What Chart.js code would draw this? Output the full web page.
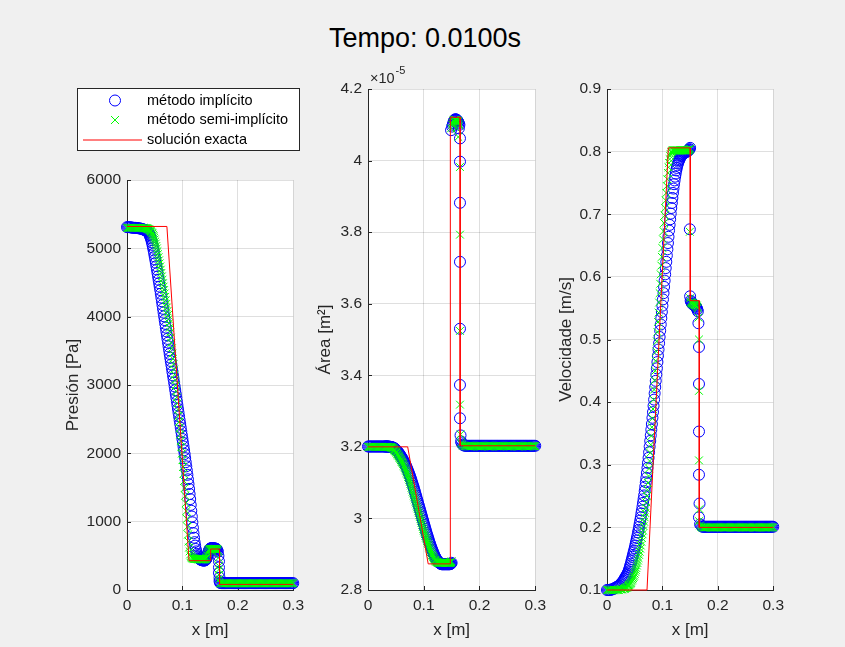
<!DOCTYPE html>
<html>
<head>
<meta charset="utf-8">
<script src="https://cdn.jsdelivr.net/npm/chart.js@4.4.0/dist/chart.umd.min.js"></script>
<style>
  html, body { margin: 0; padding: 0; }
  body { width: 845px; height: 647px; background: #f0f0f0; position: relative; overflow: hidden;
         font-family: "Liberation Sans", Arial, Helvetica, sans-serif; }
  #titulo { position: absolute; left: 0; top: 23px; width: 850px; text-align: center;
            font-size: 27px; line-height: 31px; color: #000; }
  canvas { position: absolute; top: 0; }
</style>
</head>
<body>
<div id="titulo">Tempo: 0.0100s</div>
<canvas id="graficoPresion" width="270" height="647" style="left:40px"></canvas>
<canvas id="graficoArea" width="252" height="647" style="left:300px"></canvas>
<canvas id="graficoVelocidad" width="245" height="647" style="left:545px"></canvas>
<script>
'use strict'

/******************     DATA    ******************/

// mesh positions [m]: coarse at the ends, fine through the waves
const xMalla = [
  0, 0.002, 0.004, 0.006, 0.008, 0.010, 0.012, 0.014, 0.016, 0.018, 0.020, 0.022, 0.024, 0.026, 0.028,
  0.030, 0.031, 0.032, 0.033, 0.034, 0.035, 0.036, 0.037, 0.038, 0.039,
  0.040, 0.041, 0.042, 0.043, 0.044, 0.045, 0.046, 0.047, 0.048, 0.049,
  0.050, 0.051, 0.052, 0.053, 0.054, 0.055, 0.056, 0.057, 0.058, 0.059,
  0.060, 0.061, 0.062, 0.063, 0.064, 0.065, 0.066, 0.067, 0.068, 0.069,
  0.070, 0.071, 0.072, 0.073, 0.074, 0.075, 0.076, 0.077, 0.078, 0.079,
  0.080, 0.081, 0.082, 0.083, 0.084, 0.085, 0.086, 0.087, 0.088, 0.089,
  0.090, 0.091, 0.092, 0.093, 0.094, 0.095, 0.096, 0.097, 0.098, 0.099,
  0.100, 0.101, 0.102, 0.103, 0.104, 0.105, 0.106, 0.107, 0.108, 0.109,
  0.110, 0.111, 0.112, 0.113, 0.114, 0.115, 0.116, 0.117, 0.118, 0.119,
  0.120, 0.121, 0.122, 0.123, 0.124, 0.125, 0.126, 0.127, 0.128, 0.129,
  0.130, 0.131, 0.132, 0.133, 0.134, 0.135, 0.136, 0.137, 0.138, 0.139,
  0.140, 0.141, 0.142, 0.143, 0.144, 0.145, 0.146, 0.147, 0.148, 0.149,
  0.150, 0.151, 0.152, 0.153, 0.154, 0.155, 0.156, 0.157, 0.158, 0.159,
  0.160, 0.161, 0.162, 0.163, 0.164, 0.165, 0.166, 0.167, 0.168,
  0.170, 0.172, 0.174, 0.176, 0.178, 0.180, 0.182, 0.184, 0.186, 0.188, 0.190,
  0.192, 0.194, 0.196, 0.198, 0.200, 0.202, 0.204, 0.206, 0.208, 0.210, 0.212,
  0.214, 0.216, 0.218, 0.220, 0.222, 0.224, 0.226, 0.228, 0.230, 0.232, 0.234,
  0.236, 0.238, 0.240, 0.242, 0.244, 0.246, 0.248, 0.250, 0.252, 0.254, 0.256,
  0.258, 0.260, 0.262, 0.264, 0.266, 0.268, 0.270, 0.272, 0.274, 0.276, 0.278,
  0.280, 0.282, 0.284, 0.286, 0.288, 0.290, 0.292, 0.294, 0.296, 0.298, 0.300
];

// pressure [Pa]
const presionImplicito = [
  5310, 5310, 5310, 5308, 5305, 5302, 5300, 5300, 5300, 5298, 5295, 5292, 5290, 5285, 5280,
  5275, 5272, 5270, 5266, 5262, 5259, 5255, 5248, 5240, 5226,
  5210, 5191, 5170, 5146, 5120, 5087, 5050, 5011, 4970, 4926,
  4880, 4835, 4790, 4740, 4690, 4640, 4590, 4540, 4490, 4440,
  4390, 4335, 4280, 4225, 4170, 4115, 4060, 4005, 3950, 3895,
  3840, 3785, 3730, 3675, 3620, 3565, 3510, 3455, 3400, 3350,
  3300, 3245, 3190, 3140, 3090, 3035, 2980, 2925, 2870, 2815,
  2760, 2705, 2650, 2595, 2540, 2485, 2430, 2375, 2320, 2265,
  2210, 2155, 2100, 2045, 1990, 1930, 1870, 1810, 1750, 1685,
  1620, 1550, 1480, 1405, 1330, 1245, 1160, 1075, 990, 910,
  830, 765, 700, 650, 600, 565, 530, 510, 490, 477,
  465, 457, 450, 445, 440, 437, 435, 433, 432, 432,
  432, 435, 440, 452, 470, 498, 530, 556, 580, 595,
  605, 609, 612, 612, 612, 611, 610, 609, 608, 607,
  605, 601, 595, 580, 560, 500, 330, 180, 105,
  100, 100, 100, 100, 100, 100, 100, 100, 100, 100, 100,
  100, 100, 100, 100, 100, 100, 100, 100, 100, 100, 100,
  100, 100, 100, 100, 100, 100, 100, 100, 100, 100, 100,
  100, 100, 100, 100, 100, 100, 100, 100, 100, 100, 100,
  100, 100, 100, 100, 100, 100, 100, 100, 100, 100, 100,
  100, 100, 100, 100, 100, 100, 100, 100, 100, 100, 100
];
const presionSemi = [
  5300, 5300, 5300, 5300, 5300, 5300, 5300, 5300, 5300, 5300, 5300, 5300, 5300, 5299, 5299,
  5298, 5297, 5295, 5294, 5293, 5292, 5290, 5288, 5285, 5280,
  5275, 5268, 5260, 5250, 5240, 5228, 5215, 5198, 5180, 5156,
  5130, 5100, 5070, 5035, 5000, 4958, 4915, 4870, 4825, 4780,
  4735, 4688, 4640, 4590, 4540, 4490, 4440, 4390, 4340, 4290,
  4240, 4188, 4135, 4080, 4025, 3965, 3905, 3838, 3770, 3693,
  3615, 3538, 3460, 3383, 3305, 3228, 3150, 3073, 2995, 2908,
  2820, 2730, 2640, 2550, 2460, 2368, 2275, 2183, 2090, 1995,
  1900, 1800, 1700, 1595, 1490, 1380, 1270, 1155, 1040, 925,
  810, 710, 620, 565, 520, 497, 480, 471, 465, 461,
  458, 456, 455, 454, 453, 452, 452, 451, 451, 450,
  450, 450, 450, 450, 450, 450, 450, 450, 450, 450,
  450, 451, 455, 465, 480, 507, 540, 567, 590, 596,
  600, 601, 602, 602, 602, 602, 601, 600, 600, 600,
  600, 599, 598, 590, 575, 470, 300, 160, 102,
  98, 98, 98, 98, 98, 98, 98, 98, 98, 98, 98,
  98, 98, 98, 98, 98, 98, 98, 98, 98, 98, 98,
  98, 98, 98, 98, 98, 98, 98, 98, 98, 98, 98,
  98, 98, 98, 98, 98, 98, 98, 98, 98, 98, 98,
  98, 98, 98, 98, 98, 98, 98, 98, 98, 98, 98,
  98, 98, 98, 98, 98, 98, 98, 98, 98, 98, 98
];
// extra points stacked on the contact jump
const xSaltoPresionImp = [0.166, 0.166, 0.167];
const presionSaltoImp = [420, 250, 130];
const xSaltoPresionSemi = [0.166, 0.166];
const presionSaltoSemi = [350, 220];
const xExactaPresion = [0, 0.072, 0.112, 0.151, 0.151, 0.167, 0.167, 0.3];
const presionExacta = [5320, 5320, 429, 429, 600, 600, 82, 82];

// area [x 1e-5 m^2]
const areaImplicito = [
  3.201, 3.201, 3.201, 3.201, 3.201, 3.201, 3.201, 3.201, 3.201, 3.201, 3.201, 3.201, 3.201, 3.201, 3.201,
  3.201, 3.201, 3.201, 3.201, 3.201, 3.201, 3.201, 3.201, 3.200, 3.200,
  3.200, 3.200, 3.199, 3.199, 3.198, 3.198, 3.197, 3.196, 3.195, 3.194,
  3.192, 3.191, 3.189, 3.187, 3.185, 3.183, 3.181, 3.179, 3.176, 3.174,
  3.171, 3.169, 3.166, 3.163, 3.160, 3.157, 3.154, 3.151, 3.147, 3.144,
  3.140, 3.136, 3.132, 3.128, 3.124, 3.120, 3.115, 3.111, 3.106, 3.101,
  3.096, 3.091, 3.086, 3.081, 3.075, 3.070, 3.064, 3.059, 3.053, 3.048,
  3.042, 3.037, 3.031, 3.026, 3.020, 3.015, 3.009, 3.004, 2.998, 2.993,
  2.987, 2.982, 2.976, 2.971, 2.965, 2.960, 2.955, 2.950, 2.945, 2.940,
  2.935, 2.930, 2.926, 2.921, 2.917, 2.913, 2.909, 2.905, 2.901, 2.897,
  2.894, 2.891, 2.888, 2.885, 2.883, 2.881, 2.879, 2.877, 2.876, 2.875,
  2.874, 2.873, 2.872, 2.872, 2.872, 2.872, 2.872, 2.872, 2.872, 2.872,
  2.872, 2.872, 2.872, 2.872, 2.872, 2.872, 2.872, 2.872, 2.873, 2.874,
  2.876, 4.095, 4.100, 4.105, 4.110, 4.113, 4.115, 4.115, 4.115, 4.114,
  4.112, 4.110, 4.108, 4.104, 4.100, 3.882, 3.232, 3.215, 3.210,
  3.206, 3.204, 3.203, 3.203, 3.203, 3.203, 3.203, 3.203, 3.203, 3.203, 3.203,
  3.203, 3.203, 3.203, 3.203, 3.203, 3.203, 3.203, 3.203, 3.203, 3.203, 3.203,
  3.203, 3.203, 3.203, 3.203, 3.203, 3.203, 3.203, 3.203, 3.203, 3.203, 3.203,
  3.203, 3.203, 3.203, 3.203, 3.203, 3.203, 3.203, 3.203, 3.203, 3.203, 3.203,
  3.203, 3.203, 3.203, 3.203, 3.203, 3.203, 3.203, 3.203, 3.203, 3.203, 3.203,
  3.203, 3.203, 3.203, 3.203, 3.203, 3.203, 3.203, 3.203, 3.203, 3.203, 3.203
];
const areaSemi = [
  3.200, 3.200, 3.200, 3.200, 3.200, 3.200, 3.200, 3.200, 3.200, 3.200, 3.200, 3.200, 3.200, 3.200, 3.200,
  3.200, 3.200, 3.200, 3.200, 3.200, 3.200, 3.200, 3.200, 3.199, 3.199,
  3.199, 3.199, 3.198, 3.198, 3.197, 3.196, 3.194, 3.192, 3.190, 3.188,
  3.186, 3.184, 3.181, 3.179, 3.176, 3.174, 3.171, 3.169, 3.166, 3.163,
  3.160, 3.158, 3.155, 3.152, 3.148, 3.145, 3.141, 3.137, 3.133, 3.129,
  3.125, 3.121, 3.116, 3.112, 3.107, 3.102, 3.097, 3.092, 3.086, 3.081,
  3.075, 3.070, 3.064, 3.059, 3.053, 3.048, 3.042, 3.037, 3.031, 3.026,
  3.020, 3.015, 3.009, 3.004, 2.998, 2.993, 2.987, 2.982, 2.976, 2.971,
  2.966, 2.961, 2.956, 2.951, 2.946, 2.942, 2.937, 2.933, 2.928, 2.924,
  2.919, 2.915, 2.910, 2.906, 2.902, 2.898, 2.895, 2.892, 2.889, 2.886,
  2.884, 2.882, 2.880, 2.879, 2.878, 2.877, 2.876, 2.876, 2.876, 2.876,
  2.876, 2.876, 2.876, 2.876, 2.876, 2.876, 2.876, 2.876, 2.876, 2.876,
  2.876, 2.876, 2.876, 2.876, 2.876, 2.876, 2.876, 2.876, 2.877, 2.878,
  2.880, 4.100, 4.105, 4.110, 4.112, 4.114, 4.114, 4.114, 4.113, 4.112,
  4.111, 4.110, 4.108, 4.103, 4.098, 3.982, 3.235, 3.212, 3.208,
  3.204, 3.203, 3.202, 3.202, 3.202, 3.202, 3.202, 3.202, 3.202, 3.202, 3.202,
  3.202, 3.202, 3.202, 3.202, 3.202, 3.202, 3.202, 3.202, 3.202, 3.202, 3.202,
  3.202, 3.202, 3.202, 3.202, 3.202, 3.202, 3.202, 3.202, 3.202, 3.202, 3.202,
  3.202, 3.202, 3.202, 3.202, 3.202, 3.202, 3.202, 3.202, 3.202, 3.202, 3.202,
  3.202, 3.202, 3.202, 3.202, 3.202, 3.202, 3.202, 3.202, 3.202, 3.202, 3.202,
  3.202, 3.202, 3.202, 3.202, 3.202, 3.202, 3.202, 3.202, 3.202, 3.202, 3.202
];
const xSaltoAreaImp = [0.149, 0.163, 0.165, 0.165, 0.165, 0.165, 0.165, 0.165];
const areaSaltoImp = [4.085, 4.090, 4.062, 3.997, 3.717, 3.530, 3.373, 3.280];
const xSaltoAreaSemi = [0.149, 0.159, 0.162, 0.165, 0.165, 0.165];
const areaSaltoSemi = [4.090, 4.090, 4.066, 3.793, 3.524, 3.318];
const xExactaArea = [0, 0.0712, 0.108, 0.1477, 0.1477, 0.1653, 0.1653, 0.3];
const areaExacta = [3.2, 3.2, 2.873, 2.873, 4.121, 4.121, 3.203, 3.203];

// velocity [m/s]
const velocidadImplicito = [
  0.100, 0.100, 0.100, 0.100, 0.101, 0.101, 0.102, 0.103, 0.104, 0.105, 0.106, 0.107, 0.109, 0.111, 0.113,
  0.115, 0.117, 0.118, 0.120, 0.121, 0.123, 0.124, 0.126, 0.128, 0.130,
  0.133, 0.136, 0.139, 0.142, 0.146, 0.149, 0.153, 0.156, 0.160, 0.163,
  0.167, 0.171, 0.175, 0.179, 0.183, 0.187, 0.192, 0.196, 0.201, 0.206,
  0.211, 0.216, 0.222, 0.227, 0.233, 0.239, 0.245, 0.251, 0.258, 0.265,
  0.272, 0.279, 0.287, 0.295, 0.303, 0.311, 0.320, 0.329, 0.338, 0.347,
  0.356, 0.365, 0.375, 0.384, 0.394, 0.404, 0.414, 0.424, 0.434, 0.444,
  0.454, 0.464, 0.474, 0.484, 0.494, 0.504, 0.514, 0.524, 0.534, 0.544,
  0.554, 0.564, 0.574, 0.584, 0.594, 0.604, 0.614, 0.624, 0.634, 0.644,
  0.654, 0.664, 0.674, 0.683, 0.692, 0.701, 0.710, 0.718, 0.726, 0.734,
  0.741, 0.748, 0.754, 0.760, 0.765, 0.770, 0.774, 0.778, 0.781, 0.784,
  0.786, 0.788, 0.790, 0.792, 0.793, 0.794, 0.795, 0.796, 0.797, 0.798,
  0.798, 0.799, 0.799, 0.800, 0.800, 0.801, 0.801, 0.802, 0.803, 0.804,
  0.806, 0.562, 0.560, 0.558, 0.557, 0.556, 0.556, 0.555, 0.555, 0.554,
  0.553, 0.552, 0.550, 0.548, 0.545, 0.526, 0.353, 0.238, 0.205,
  0.203, 0.201, 0.201, 0.201, 0.201, 0.201, 0.201, 0.201, 0.201, 0.201, 0.201,
  0.201, 0.201, 0.201, 0.201, 0.201, 0.201, 0.201, 0.201, 0.201, 0.201, 0.201,
  0.201, 0.201, 0.201, 0.201, 0.201, 0.201, 0.201, 0.201, 0.201, 0.201, 0.201,
  0.201, 0.201, 0.201, 0.201, 0.201, 0.201, 0.201, 0.201, 0.201, 0.201, 0.201,
  0.201, 0.201, 0.201, 0.201, 0.201, 0.201, 0.201, 0.201, 0.201, 0.201, 0.201,
  0.201, 0.201, 0.201, 0.201, 0.201, 0.201, 0.201, 0.201, 0.201, 0.201, 0.201
];
const velocidadSemi = [
  0.100, 0.100, 0.100, 0.100, 0.100, 0.100, 0.100, 0.100, 0.100, 0.100, 0.100, 0.100, 0.101, 0.101, 0.101,
  0.102, 0.102, 0.102, 0.103, 0.103, 0.104, 0.104, 0.105, 0.106, 0.107,
  0.108, 0.109, 0.110, 0.111, 0.113, 0.115, 0.117, 0.119, 0.121, 0.123,
  0.126, 0.129, 0.132, 0.135, 0.139, 0.143, 0.147, 0.151, 0.156, 0.161,
  0.166, 0.171, 0.177, 0.183, 0.189, 0.195, 0.202, 0.209, 0.216, 0.223,
  0.231, 0.240, 0.250, 0.260, 0.271, 0.282, 0.294, 0.306, 0.319, 0.332,
  0.346, 0.360, 0.374, 0.389, 0.404, 0.420, 0.435, 0.450, 0.466, 0.481,
  0.497, 0.512, 0.528, 0.543, 0.559, 0.574, 0.589, 0.604, 0.618, 0.632,
  0.646, 0.660, 0.673, 0.686, 0.698, 0.710, 0.722, 0.734, 0.745, 0.756,
  0.766, 0.775, 0.782, 0.788, 0.793, 0.796, 0.799, 0.800, 0.801, 0.802,
  0.802, 0.802, 0.802, 0.802, 0.802, 0.802, 0.802, 0.802, 0.802, 0.802,
  0.802, 0.802, 0.802, 0.802, 0.802, 0.802, 0.802, 0.802, 0.802, 0.802,
  0.802, 0.802, 0.802, 0.802, 0.802, 0.802, 0.802, 0.802, 0.803, 0.804,
  0.805, 0.560, 0.559, 0.558, 0.558, 0.557, 0.557, 0.556, 0.556, 0.555,
  0.555, 0.554, 0.554, 0.552, 0.550, 0.535, 0.418, 0.229, 0.203,
  0.201, 0.200, 0.200, 0.200, 0.200, 0.200, 0.200, 0.200, 0.200, 0.200, 0.200,
  0.200, 0.200, 0.200, 0.200, 0.200, 0.200, 0.200, 0.200, 0.200, 0.200, 0.200,
  0.200, 0.200, 0.200, 0.200, 0.200, 0.200, 0.200, 0.200, 0.200, 0.200, 0.200,
  0.200, 0.200, 0.200, 0.200, 0.200, 0.200, 0.200, 0.200, 0.200, 0.200, 0.200,
  0.200, 0.200, 0.200, 0.200, 0.200, 0.200, 0.200, 0.200, 0.200, 0.200, 0.200,
  0.200, 0.200, 0.200, 0.200, 0.200, 0.200, 0.200, 0.200, 0.200, 0.200, 0.200
];
const xSaltoVelImp = [0.1495, 0.150, 0.166, 0.166, 0.166, 0.166];
const velSaltoImp = [0.676, 0.569, 0.488, 0.429, 0.284, 0.216];
const xSaltoVelSemi = [0.1495, 0.150, 0.166, 0.166, 0.166];
const velSaltoSemi = [0.672, 0.566, 0.500, 0.307, 0.210];
const xExactaVel = [0, 0.0722, 0.1107, 0.1503, 0.1503, 0.1665, 0.1665, 0.3];
const velocidadExacta = [0.1, 0.1, 0.806, 0.806, 0.562, 0.562, 0.2, 0.2];

/******************     STYLE    ******************/

const fuente = '"Liberation Sans", Arial, Helvetica, sans-serif';
const colorEje = '#262626';
const colorMalla = 'rgba(38,38,38,0.15)';
const azul = '#0000ff';
const verde = '#00ff00';
const rojo = '#ff0000';

Chart.defaults.font.family = fuente;

const puntos = (xs, ys) => xs.map((x, i) => ({ x: x, y: ys[i] }));
const formatoTick = (v) => String(Number(v.toFixed(2)));

/******************     PLUGINS    ******************/

// white axes background, the figure stays grey
const fondoBlanco = {
  id: 'fondoBlanco',
  beforeDraw(chart) {
    const { ctx, chartArea: a } = chart;
    ctx.save();
    ctx.fillStyle = '#ffffff';
    ctx.fillRect(a.left, a.top, a.right - a.left, a.bottom - a.top);
    ctx.restore();
  }
};

// small tick marks pointing into the axes
const marcasInternas = {
  id: 'marcasInternas',
  beforeDatasetsDraw(chart) {
    const { ctx, chartArea: a, scales } = chart;
    ctx.save();
    ctx.strokeStyle = colorEje;
    ctx.lineWidth = 1;
    ctx.beginPath();
    for (let t of scales.x.ticks) {
      const px = Math.round(scales.x.getPixelForValue(t.value)) + 0.5;
      ctx.moveTo(px, a.bottom);
      ctx.lineTo(px, a.bottom - 4);
    }
    for (let t of scales.y.ticks) {
      const py = Math.round(scales.y.getPixelForValue(t.value)) + 0.5;
      ctx.moveTo(a.left, py);
      ctx.lineTo(a.left + 4, py);
    }
    ctx.stroke();
    ctx.restore();
  }
};

// boxed legend above the pressure axes
const leyendaMetodos = {
  id: 'leyendaMetodos',
  afterDraw(chart) {
    const ctx = chart.ctx;
    ctx.save();
    ctx.fillStyle = '#ffffff';
    ctx.fillRect(37.5, 88.5, 222, 62);
    ctx.strokeStyle = colorEje;
    ctx.lineWidth = 1;
    ctx.strokeRect(37.5, 88.5, 222, 62);

    // circle
    ctx.strokeStyle = azul;
    ctx.beginPath();
    ctx.arc(75, 100.5, 5.5, 0, Math.PI * 2);
    ctx.stroke();
    // cross
    ctx.strokeStyle = verde;
    ctx.beginPath();
    ctx.moveTo(71, 116); ctx.lineTo(79, 124);
    ctx.moveTo(79, 116); ctx.lineTo(71, 124);
    ctx.stroke();
    // line
    ctx.strokeStyle = rojo;
    ctx.beginPath();
    ctx.moveTo(43, 140); ctx.lineTo(102, 140);
    ctx.stroke();

    ctx.fillStyle = '#000000';
    ctx.font = '14.5px ' + fuente;
    ctx.textBaseline = 'middle';
    ctx.textAlign = 'left';
    ctx.fillText('método implícito', 107, 101);
    ctx.fillText('método semi-implícito', 107, 120);
    ctx.fillText('solución exacta', 107, 140);
    ctx.restore();
  }
};

// x10^-5 multiplier over the area axis
const exponenteArea = {
  id: 'exponenteArea',
  afterDraw(chart) {
    const { ctx, chartArea: a } = chart;
    ctx.save();
    ctx.fillStyle = colorEje;
    ctx.textBaseline = 'alphabetic';
    ctx.textAlign = 'left';
    ctx.font = '14.5px ' + fuente;
    ctx.fillText('×10', a.left + 2, a.top - 6);
    const w = ctx.measureText('×10').width;
    ctx.font = '11px ' + fuente;
    ctx.fillText('-5', a.left + 2 + w + 1, a.top - 15);
    ctx.restore();
  }
};

/******************     PANELS    ******************/

const crearPanel = (id, p) => new Chart(document.getElementById(id), {
  type: 'scatter',
  data: {
    datasets: [
      {
        label: 'solución exacta',
        data: puntos(p.xExacta, p.exacta),
        showLine: true,
        borderColor: rojo,
        borderWidth: 1,
        pointRadius: 0,
        pointHoverRadius: 0,
        order: 1,
        clip: false
      },
      {
        label: 'método semi-implícito',
        data: puntos(xMalla, p.semi).concat(puntos(p.xSaltoSemi, p.saltoSemi)),
        pointStyle: 'crossRot',
        pointRadius: 5.5,
        pointBorderColor: verde,
        pointBackgroundColor: verde,
        pointBorderWidth: 1,
        order: 2,
        clip: false
      },
      {
        label: 'método implícito',
        data: puntos(xMalla, p.implicito).concat(puntos(p.xSaltoImp, p.saltoImp)),
        pointStyle: 'circle',
        pointRadius: 5.5,
        pointBorderColor: azul,
        pointBackgroundColor: 'rgba(0,0,0,0)',
        pointBorderWidth: 1,
        order: 3,
        clip: false
      }
    ]
  },
  options: {
    responsive: false,
    animation: false,
    events: [],
    layout: { padding: p.padding },
    plugins: { legend: { display: false }, tooltip: { enabled: false } },
    scales: {
      x: {
        type: 'linear',
        min: 0,
        max: 0.3,
        ticks: { stepSize: 0.1, padding: 6, color: colorEje, font: { size: 15.5 }, callback: formatoTick },
        grid: { color: colorMalla, drawTicks: false },
        border: { color: colorEje, width: 1 },
        title: { display: true, text: 'x [m]', color: colorEje, font: { size: 17 }, padding: { top: 0, bottom: 6 } },
        afterFit: (s) => { s.height = 57; }
      },
      y: {
        type: 'linear',
        min: p.yMin,
        max: p.yMax,
        ticks: { stepSize: p.yPaso, padding: 6, color: colorEje, font: { size: 15.5 }, callback: formatoTick },
        grid: { color: colorMalla, drawTicks: false },
        border: { color: colorEje, width: 1 },
        title: { display: true, text: p.yTitulo, color: colorEje, font: { size: 17 }, padding: { top: p.yTituloPad, bottom: 0 } },
        afterFit: (s) => { s.width = p.yAncho; }
      }
    }
  },
  plugins: [fondoBlanco, marcasInternas].concat(p.extra)
});

crearPanel('graficoPresion', {
  implicito: presionImplicito, semi: presionSemi,
  xSaltoImp: xSaltoPresionImp, saltoImp: presionSaltoImp,
  xSaltoSemi: xSaltoPresionSemi, saltoSemi: presionSaltoSemi,
  xExacta: xExactaPresion, exacta: presionExacta,
  yMin: 0, yMax: 6000, yPaso: 1000, yTitulo: 'Presión [Pa]',
  yAncho: 87, yTituloPad: 23,
  padding: { left: 0, right: 14, top: 180, bottom: 0 },
  extra: [leyendaMetodos]
});

crearPanel('graficoArea', {
  implicito: areaImplicito, semi: areaSemi,
  xSaltoImp: xSaltoAreaImp, saltoImp: areaSaltoImp,
  xSaltoSemi: xSaltoAreaSemi, saltoSemi: areaSaltoSemi,
  xExacta: xExactaArea, exacta: areaExacta,
  yMin: 2.8, yMax: 4.2, yPaso: 0.2, yTitulo: 'Área [m²]',
  yAncho: 68, yTituloPad: 15,
  padding: { left: 0, right: 14, top: 89, bottom: 0 },
  extra: [exponenteArea]
});

crearPanel('graficoVelocidad', {
  implicito: velocidadImplicito, semi: velocidadSemi,
  xSaltoImp: xSaltoVelImp, saltoImp: velSaltoImp,
  xSaltoSemi: xSaltoVelSemi, saltoSemi: velSaltoSemi,
  xExacta: xExactaVel, exacta: velocidadExacta,
  yMin: 0.1, yMax: 0.9, yPaso: 0.1, yTitulo: 'Velocidade [m/s]',
  yAncho: 62, yTituloPad: 11,
  padding: { left: 0, right: 14, top: 89, bottom: 0 },
  extra: []
});
</script>
</body>
</html>
